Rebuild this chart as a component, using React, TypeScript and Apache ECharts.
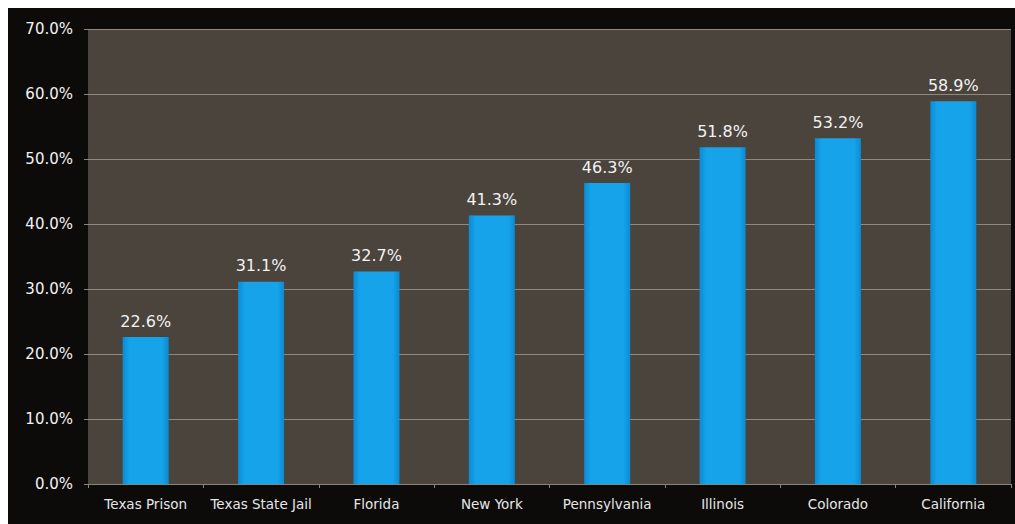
import React, { useEffect, useRef } from "react";
import * as echarts from "echarts";

const categories = [
  "Texas Prison",
  "Texas State Jail",
  "Florida",
  "New York",
  "Pennsylvania",
  "Illinois",
  "Colorado",
  "California",
];
const values = [22.6, 31.1, 32.7, 41.3, 46.3, 51.8, 53.2, 58.9];

export default function App() {
  const ref = useRef<HTMLDivElement>(null);
  useEffect(() => {
    if (!ref.current) return;
    const chart = echarts.init(ref.current, null, { renderer: "svg" });
    chart.setOption({
      animation: false,
      backgroundColor: "#0d0b0a",
      grid: { left: 80, top: 21, right: 4, bottom: 40, containLabel: false, show: true, backgroundColor: "#4a443d", borderWidth: 0 },
      xAxis: {
        type: "category",
        data: categories,
        axisLine: { show: true, lineStyle: { color: "#8a857c", width: 1 } },
        axisTick: { show: true, length: 4, lineStyle: { color: "#8a857c" } },
        axisLabel: { color: "#e6e6e6", fontSize: 13.5, fontFamily: "DejaVu Sans", margin: 13, interval: 0 },
      },
      yAxis: {
        type: "value",
        min: 0,
        max: 70,
        interval: 10,
        axisLine: { show: false },
        axisTick: { show: true, length: 4, lineStyle: { color: "#8a857c" } },
        axisLabel: {
          color: "#f2f2f2",
          fontSize: 15,
          fontFamily: "DejaVu Sans",
          margin: 15,
          formatter: (v: number) => v.toFixed(1) + "%",
        },
        splitLine: { show: true, lineStyle: { color: "#8f897e", width: 1 } },
      },
      series: [
        {
          type: "bar",
          data: values,
          barWidth: 46,
          itemStyle: {
            color: new echarts.graphic.LinearGradient(0, 0, 1, 0, [
              { offset: 0, color: "#0a8cd4" },
              { offset: 0.15, color: "#17a3ea" },
              { offset: 0.85, color: "#17a3ea" },
              { offset: 1, color: "#0a8cd4" },
            ]),
          },
          label: {
            show: true,
            position: "top",
            distance: 8,
            color: "#f2f2f2",
            fontSize: 16,
            fontFamily: "DejaVu Sans",
            formatter: (p: any) => p.value.toFixed(1) + "%",
          },
        },
      ],
    });
    return () => chart.dispose();
  }, []);
  return (
    <div
      ref={ref}
      style={{ position: "fixed", left: 8, top: 8, width: 1007, height: 516 }}
    />
  );
}
